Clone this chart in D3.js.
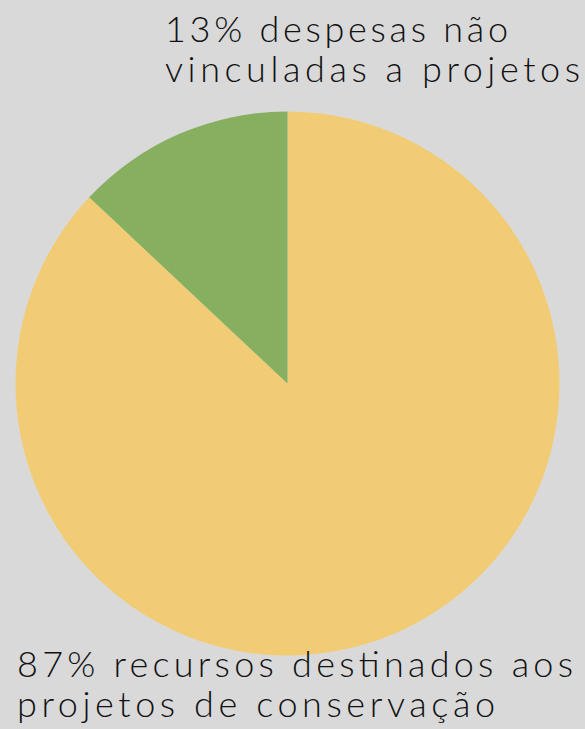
<!DOCTYPE html>
<html>
<head>
<meta charset="utf-8">
<script src="https://cdn.jsdelivr.net/npm/d3@7"></script>
<style>
  html, body { margin: 0; padding: 0; background: #d9d9d9; }
  svg { display: block; }
</style>
</head>
<body>
<div id="chart"></div>
<script>
const shares = [87, 13];
const names = ["recursos", "despesas"];
const colours = ["#f2cc74", "#86af5f"];
const topLabel = ["13% despesas não", "vinculadas a projetos"];
const bottomLabel = ["87% recursos destinados aos", "projetos de conservação"];

const width = 585, height = 729;
const cx = 287.5, cy = 383.5, radius = 272;

const svg = d3.select("#chart")
    .append("svg")
    .attr("width", width)
    .attr("height", height);

svg.append("rect")
    .attr("width", width)
    .attr("height", height)
    .attr("fill", "#d9d9d9");

// pie runs clockwise from 12 o'clock, the small slice ends back at the top
const pie = d3.pie().sort(null).value(d => d);
const arc = d3.arc().innerRadius(0).outerRadius(radius);
const colour = d3.scaleOrdinal().domain(names).range(colours);

svg.append("g")
    .attr("transform", "translate(" + cx + "," + cy + ")")
    .selectAll("path")
    .data(pie(shares))
    .enter()
    .append("path")
    .attr("d", arc)
    .attr("fill", (d, i) => colour(names[i]));

function drawLabel(lines, x, y0, widths) {
    svg.append("g")
        .selectAll("text")
        .data(lines)
        .enter()
        .append("text")
        .attr("x", x)
        .attr("y", (d, i) => y0 + i * 40)
        .attr("textLength", (d, i) => widths[i])
        .attr("lengthAdjust", "spacing")
        .style("font-family", "Lato, 'Noto Sans', sans-serif")
        .style("font-weight", 300)
        .style("font-size", "36px")
        .style("fill", "#111")
        .text(d => d);
}

drawLabel(topLabel, 165, 42, [343, 415]);
drawLabel(bottomLabel, 17, 677, [556, 478]);
</script>
</body>
</html>
